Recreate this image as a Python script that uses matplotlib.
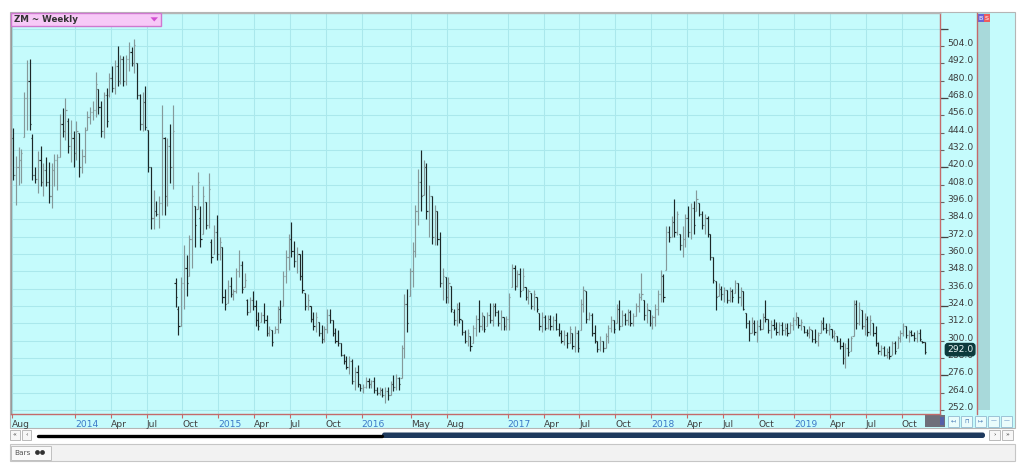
import datetime as dt
import numpy as np
import matplotlib
matplotlib.use("Agg")
import matplotlib.pyplot as plt
from matplotlib.collections import LineCollection
from matplotlib.patches import Rectangle, FancyBboxPatch, Polygon, Circle
from matplotlib.transforms import blended_transform_factory, offset_copy

# ---------------- data ----------------
chart_title = "ZM ~ Weekly"
first_bar = dt.date(2013, 8, 2)

highs = [
    447,428,434,433,472,494,495,443,420,431, 435,423,427,424,423,429,429,457,461,468,
    454,453,445,452,444,433,448,459,462,466, 486,474,466,472,475,485,490,494,504,498,
    497,498,507,503,509,492,471,472,476,446, 420,404,397,400,463,441,440,450,463,343,
    324,344,366,359,373,408,393,417,
    393,407,396,416,370,380,387,372,365,336, 342,344,336,350,363,355,347,329,330,334,
    328,320,320,326,318,310,307,310,324,328, 348,363,374,382,369,365,360,363,333,332,
    324,320,320,313,311,310,322,322,314,309, 307,298,291,289,289,287,282,283,270,270,
    275,274,273,275,268,268,267,268,
    268,272,276,277,275,297,332,336,350,368, 394,419,432,425,423,408,400,394,390,375,
    350,344,344,338,322,326,327,314,307,308, 303,311,318,328,320,317,320,326,326,326,
    321,321,316,317,333,353,352,349,350,350, 337,336,333,335,330,319,320,318,318,318,
    317,319,312,307,307,
    306,310,305,310,307,329,338,334,320,319, 311,300,303,300,305,311,317,314,325,328,
    321,319,322,321,319,326,333,347,328,326, 321,318,325,335,349,346,379,379,386,398,
    390,374,379,388,393,395,397,404,395,390, 388,386,374,358,341,340,338,337,335,337,
    336,342,340,337,334,319,314,
    316,314,314,315,319,328,315,314,315,313, 313,313,312,312,313,316,320,316,315,310,
    308,310,307,308,306,314,316,312,312,308, 307,303,302,299,298,302,303,328,328,327,
    321,319,317,318,312,310,299,297,296,295, 296,300,300,303,307,312,310,307,307,306,
    307,308,300,299,
]
lows = [
    411,394,408,409,441,446,446,411,409,402, 407,400,407,395,392,407,404,427,441,439,
    430,424,420,425,413,416,423,446,450,453, 455,457,441,440,448,469,472,471,476,478,
    476,477,487,490,485,467,446,445,446,417, 377,377,386,378,387,387,393,409,405,323,
    304,310,322,331,345,350,365,391,
    365,374,377,378,354,360,356,356,326,321, 326,330,328,333,344,333,337,318,320,321,
    310,307,313,312,303,303,296,305,305,312, 324,340,349,358,351,347,342,333,321,321,
    313,307,306,303,298,299,305,312,303,298, 296,289,284,280,277,270,266,268,265,264,
    267,267,267,264,262,262,261,257,
    259,262,265,266,266,274,288,306,331,337, 358,380,390,401,384,372,367,366,366,337,
    328,326,326,320,311,310,312,304,298,296, 293,298,303,306,307,306,310,312,310,317,
    310,307,307,307,307,337,335,337,330,335, 328,325,322,321,320,307,306,307,308,307,
    307,307,303,298,297,
    295,298,294,292,292,307,320,312,314,303, 298,292,293,292,295,298,306,305,312,307,
    310,311,311,310,310,317,320,328,314,312, 310,308,310,318,327,327,349,368,372,372,
    373,363,358,365,372,370,374,390,386,377, 374,372,356,340,321,331,328,327,326,327,
    327,333,326,324,321,309,300,
    305,304,299,307,308,313,305,302,307,304, 304,304,304,303,305,307,311,309,307,305,
    303,302,299,298,296,305,307,305,304,302, 300,299,294,284,281,289,293,303,308,311,
    308,304,303,304,303,296,291,290,289,288, 287,290,291,295,299,303,302,299,303,300,
    299,300,298,291,
]
opens = [
    440,415,420,425,441,468,480,440,415,412, 425,410,418,410,400,418,425,427,450,445,
    452,435,440,430,444,420,428,446,455,458, 460,474,462,445,470,470,482,475,490,480,
    495,480,495,500,492,492,470,450,465,446, 420,385,390,388,395,440,400,435,420,340,
    322,310,340,350,345,370,393,391,
    385,374,396,380,368,360,375,360,365,330, 326,338,332,334,348,352,337,328,320,328,
    324,314,313,318,314,305,307,305,308,322, 324,345,358,370,362,355,360,345,333,324,
    324,315,310,313,305,301,308,318,314,305, 300,298,290,286,282,286,272,278,270,267,
    268,272,270,272,266,264,266,262,
    265,262,270,268,274,274,295,325,331,348, 362,390,410,401,420,390,400,372,390,370,
    340,344,330,338,320,314,322,314,306,300, 303,298,309,315,310,317,310,318,314,324,
    320,312,316,310,315,337,350,338,346,335, 337,330,333,324,330,319,310,316,309,315,
    310,314,308,305,300,
    304,298,305,296,305,307,325,334,315,318, 305,300,294,300,295,303,309,314,312,322,
    310,318,314,320,312,317,324,330,328,318, 321,312,316,322,332,345,349,375,372,382,
    375,374,366,370,385,375,392,390,395,388, 380,385,374,358,341,331,336,332,335,328,
    334,333,340,330,334,319,312,
    305,312,306,310,308,316,315,307,311,309, 306,311,307,309,305,311,314,316,311,310,
    306,305,307,301,300,305,312,309,307,308, 303,303,300,296,288,295,293,303,325,312,
    321,310,315,306,312,305,298,293,295,290, 292,290,298,295,302,305,310,304,306,304,
    302,305,300,299,
]
closes = [
    415,420,425,430,468,480,450,415,412,425, 410,418,410,400,418,425,427,450,445,460,
    435,440,430,445,420,428,446,455,458,460, 478,462,445,470,452,482,475,490,480,495,
    480,495,500,492,505,470,450,465,448,420, 385,390,388,395,440,400,435,420,445,330,
    310,340,350,340,370,400,380,410,
    370,400,380,405,358,375,360,368,330,325, 338,332,334,348,352,336,342,320,328,324,
    314,310,318,314,305,308,299,308,322,315, 345,358,370,362,355,360,345,335,324,328,
    315,310,316,305,301,308,318,314,305,300, 298,290,286,282,286,272,278,270,267,268,
    272,270,272,266,264,266,262,265,
    262,270,268,274,270,295,325,312,348,362, 390,410,400,420,390,400,372,390,370,340,
    345,330,340,322,314,322,315,306,300,305, 296,309,315,310,318,308,318,314,324,320,
    312,316,310,315,330,350,338,346,334,345, 330,334,324,332,322,310,316,309,315,310,
    314,308,305,300,304,
    298,308,296,305,295,325,335,315,318,305, 300,294,300,295,303,309,314,308,322,310,
    318,314,320,312,317,324,330,332,318,322, 312,316,322,332,345,330,375,372,382,375,
    388,366,370,385,375,392,380,398,388,380, 385,374,358,342,330,336,332,335,328,334,
    330,340,330,334,322,312,305,
    312,306,310,308,316,315,307,311,309,306, 311,307,309,305,311,314,316,311,313,306,
    305,308,301,300,304,312,309,307,310,303, 305,300,296,288,295,292,302,325,312,322,
    310,315,306,314,305,298,293,295,290,292, 289,298,293,302,305,310,304,306,304,302,
    305,301,299,292,
]

x_tick_months = [(2013, 8), (2014, 1), (2014, 4), (2014, 7), (2014, 10),
                 (2015, 1), (2015, 4), (2015, 7), (2015, 10),
                 (2016, 1), (2016, 5), (2016, 8),
                 (2017, 1), (2017, 4), (2017, 7), (2017, 10),
                 (2018, 1), (2018, 4), (2018, 7), (2018, 10),
                 (2019, 1), (2019, 4), (2019, 7), (2019, 10)]
x_tick_labels = ["Aug", "2014", "Apr", "Jul", "Oct", "2015", "Apr", "Jul", "Oct",
                 "2016", "May", "Aug", "2017", "Apr", "Jul", "Oct",
                 "2018", "Apr", "Jul", "Oct", "2019", "Apr", "Jul", "Oct"]
price_grid = [252 + 12 * k for k in range(23)]      # 252 ... 516
price_labels = [252 + 12 * k for k in range(22)]    # 252 ... 504
price_long_ticks = [276, 324, 372, 420, 468, 516]

# ---------------- styling ----------------
W, H = 1024, 473
CYAN = "#c5fbfc"
GRID = "#aae8ec"
RED = "#c46a6a"
UP_COL = "#85999a"
DN_COL = "#1c2828"
YEAR_COL = "#3a78c8"
MON_COL = "#404040"

fig = plt.figure(figsize=(W / 100, H / 100), dpi=100)
fig.patch.set_facecolor("white")

bg = fig.add_axes([0, 0, 1, 1], zorder=0)
bg.set_xlim(0, W)
bg.set_ylim(H, 0)
bg.axis("off")

# outer chart frame (cyan)
bg.add_patch(Rectangle((9.5, 12.5), 1005.5, 415, facecolor=CYAN, edgecolor="#b5b5b5", lw=0.8))
# teal price strip
bg.add_patch(Rectangle((977.5, 13), 12.5, 397, facecolor="#a8d9da", edgecolor="none"))
bg.plot([976.5, 976.5], [13, 414], color=RED, lw=1.0)
# B S markers
bg.add_patch(Rectangle((977.5, 14), 6.3, 8, facecolor="#6b63d6", edgecolor="none"))
bg.add_patch(Rectangle((983.8, 14), 6.3, 8, facecolor="#ee5b5b", edgecolor="none"))
bg.text(980.6, 18.3, "B", color="white", fontsize=4.6, ha="center", va="center")
bg.text(986.9, 18.3, "S", color="white", fontsize=4.6, ha="center", va="center")
# dark corner box under price axis
bg.add_patch(Rectangle((925, 415), 20, 12, facecolor="#6f6f7a", edgecolor="none"))
bg.add_patch(Rectangle((940, 417), 4, 8, facecolor="#5560a8", edgecolor="none"))
# small buttons right of time axis
icons = ["\u21a4", "\u2293", "\u21a6", "\u2014", "\u2014"]
for k in range(5):
    x0 = 948 + k * 13.3
    bg.add_patch(Rectangle((x0, 416), 11, 10.5, facecolor="#eafcfc", edgecolor="#9cc3d6", lw=0.7))
    bg.text(x0 + 5.5, 421.3, icons[k], color="#3a6fb0", fontsize=4.2, ha="center", va="center")

# scrollbar row
bg.add_patch(Rectangle((10, 430), 9.5, 10, facecolor="#f7f7f7", edgecolor="#b9b9b9", lw=0.7))
bg.add_patch(Rectangle((21.5, 430), 9.5, 10, facecolor="#f7f7f7", edgecolor="#b9b9b9", lw=0.7))
bg.text(14.8, 435, "\u00ab", fontsize=4.5, ha="center", va="center", color="#333")
bg.text(26.3, 435, "\u2039", fontsize=4.5, ha="center", va="center", color="#333")
bg.plot([38, 382], [435.5, 435.5], color="black", lw=2.4, solid_capstyle="round")
bg.add_patch(FancyBboxPatch((382, 432.5), 603, 5.5, boxstyle="round,pad=0,rounding_size=2.5",
                            facecolor="#1f3a5e", edgecolor="none"))
bg.add_patch(Rectangle((989, 430), 10.5, 10, facecolor="#f7f7f7", edgecolor="#b9b9b9", lw=0.7))
bg.add_patch(Rectangle((1002, 430), 10.5, 10, facecolor="#f7f7f7", edgecolor="#b9b9b9", lw=0.7))
bg.text(994.2, 435, "\u203a", fontsize=4.5, ha="center", va="center", color="#333")
bg.text(1007.2, 435, "\u00bb", fontsize=4.5, ha="center", va="center", color="#333")

# tab row
bg.add_patch(Rectangle((9.5, 443.5), 1005.5, 17, facecolor="#f2f2f2", edgecolor="#c6c6c6", lw=0.8))
bg.add_patch(Rectangle((10.5, 445.5), 40, 14, facecolor="#f9f9f9", edgecolor="#c0c0c0", lw=0.7))
bg.text(14, 452.8, "Bars", fontsize=5.3, ha="left", va="center", color="#555")
bg.add_patch(Circle((37.5, 452.5), 2.4, facecolor="#333", edgecolor="none"))
bg.add_patch(Circle((42.5, 452.5), 2.4, facecolor="#333", edgecolor="none"))

# ---------------- main price axes ----------------
L, R, T, B = 11, 940, 13, 414
ax = fig.add_axes([L / W, 1 - B / H, (R - L) / W, (B - T) / H], zorder=2)
ax.set_facecolor(CYAN)

n = len(highs)
hi = np.array(highs, float)
lo = np.array(lows, float)
op = np.clip(np.array(opens, float), lo, hi)
cl = np.clip(np.array(closes, float), lo, hi)
idx = np.arange(n)

dates = [first_bar + dt.timedelta(weeks=int(i)) for i in idx]
tick_pos = []
for (yy, mm) in x_tick_months:
    d0 = dt.date(yy, mm, 1)
    k = next(i for i, d in enumerate(dates) if d >= d0)
    tick_pos.append(k - 0.5 if k == 0 else k + 0.5)

px_per_bar = 2.756
x_first_px = 13.0
ax.set_xlim((L - x_first_px) / px_per_bar, (R - x_first_px) / px_per_bar)
ax.set_ylim(249.15, 526.85)

segs, cols = [], []
half = 0.42
for i in idx:
    c = UP_COL if cl[i] >= op[i] else DN_COL
    segs.append([(i, lo[i]), (i, hi[i])])
    segs.append([(i - half, op[i]), (i, op[i])])
    segs.append([(i, cl[i]), (i + half, cl[i])])
    cols += [c, c, c]
ax.add_collection(LineCollection(segs, colors=cols, linewidths=0.85, capstyle="butt", zorder=3))

# grid
for v in price_grid:
    ax.axhline(v, color=GRID, lw=0.75, zorder=1)
for p in tick_pos:
    ax.axvline(p, color=GRID, lw=0.75, zorder=1)

# spines
ax.spines["top"].set_color("#b5b5b5")
ax.spines["left"].set_color("#9a9a9a")
ax.spines["bottom"].set_color(RED)
ax.spines["right"].set_color(RED)
for s in ax.spines.values():
    s.set_linewidth(1.0)

# x axis ticks / labels
ax.set_xticks(tick_pos)
ax.set_xticklabels(x_tick_labels, ha="left")
ax.tick_params(axis="x", direction="out", length=3.0, width=0.8, color=RED, pad=1.2, labelsize=6.6)
for lbl, txt in zip(ax.get_xticklabels(), x_tick_labels):
    lbl.set_color(YEAR_COL if txt.isdigit() else MON_COL)

# y axis ticks (right) with manual labels
ax.yaxis.tick_right()
ax.yaxis.remove_overlapping_locs = False
ax.set_yticks(price_grid)
ax.set_yticks(price_long_ticks, minor=True)
ax.tick_params(axis="y", which="major", direction="out", length=3, width=0.8, color="#666666",
               labelright=False, labelleft=False)
ax.tick_params(axis="y", which="minor", direction="out", length=5.5, width=0.9, color="#444444",
               labelright=False, labelleft=False)
ybt = blended_transform_factory(ax.transAxes, ax.transData)
lab_tr = offset_copy(ybt, fig=fig, x=7, y=2.5, units="dots")
last = cl[-1]
for v in price_labels:
    ax.text(1.0, v, f"{v:.1f}", transform=lab_tr, fontsize=6.6, color="#3c3c3c",
            ha="left", va="center", clip_on=False, zorder=4)

# last price box (drawn over the neighbouring scale label, as in the original)
ax.text(1.0, last, f"{last:.1f}", transform=lab_tr, fontsize=6.6, color="#e8f4f4",
        ha="left", va="center", clip_on=False, zorder=6,
        bbox=dict(boxstyle="round,pad=0.18,rounding_size=0.3", fc="#0c3a3c", ec="#0c3a3c"))

# ---------------- foreground (legend box) ----------------
fg = fig.add_axes([0, 0, 1, 1], zorder=5)
fg.set_xlim(0, W)
fg.set_ylim(H, 0)
fg.axis("off")
fg.patch.set_alpha(0)
fg.add_patch(Rectangle((10.5, 13.5), 150, 12.5, facecolor="#f7c9f7", edgecolor="#cf78cf", lw=1.0))
fg.text(13.5, 20.0, chart_title, fontsize=6.3, fontweight="bold", color="#333333", ha="left", va="center")
fg.add_patch(Polygon([(150.5, 17.3), (158, 17.3), (154.25, 21.5)], closed=True,
                     facecolor="#d24fd2", edgecolor="none"))

fig.savefig("out.png", dpi=100, facecolor="white")
